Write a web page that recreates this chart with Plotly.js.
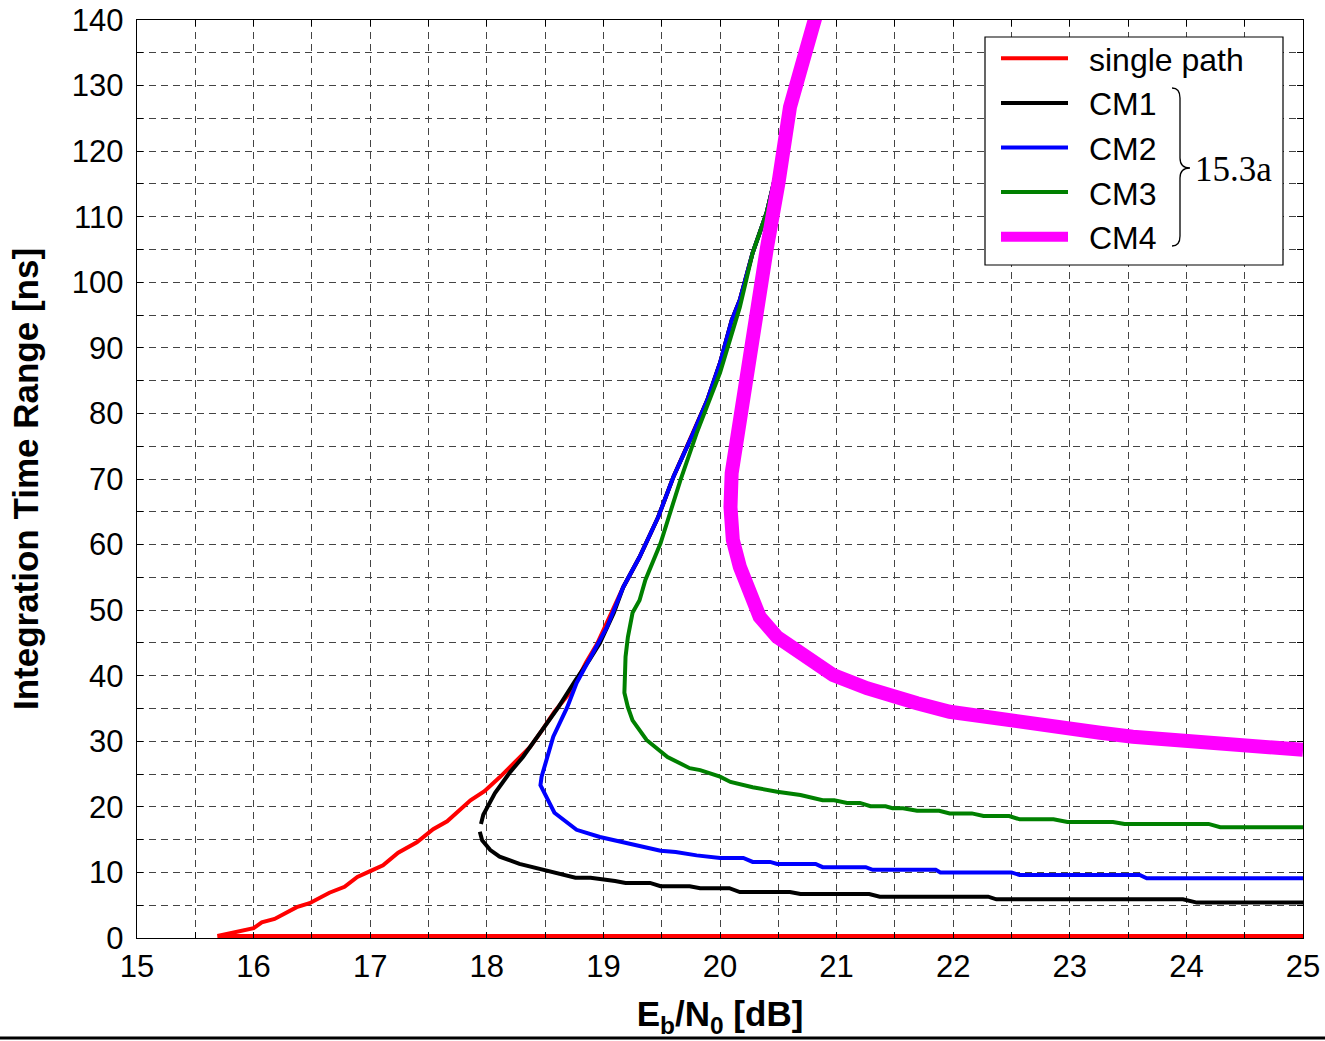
<!DOCTYPE html>
<html>
<head>
<meta charset="utf-8">
<script src="https://cdn.plot.ly/plotly-3.0.1.min.js"></script>
<style>html,body{margin:0;padding:0;background:#fff;}#chart{width:1325px;height:1041px;}</style>
</head>
<body>
<div id="chart"></div>
<script>
// ---------- data ----------
const xTicks = [15, 16, 17, 18, 19, 20, 21, 22, 23, 24, 25];
const xTickText = ['15', '16', '17', '18', '19', '20', '21', '22', '23', '24', '25'];
const yTicks = [0, 10, 20, 30, 40, 50, 60, 70, 80, 90, 100, 110, 120, 130, 140];
const yTickText = ['0', '10', '20', '30', '40', '50', '60', '70', '80', '90', '100', '110', '120', '130', '140'];

const seriesNames = ['single path', 'CM1', 'CM2', 'CM3', 'CM4'];
const braceLabel = '15.3a';

const xSingle = [25, 15.7, 15.69, 16.0, 16.07, 16.18, 16.37, 16.48, 16.65, 16.78, 16.89, 17.0, 17.11, 17.24, 17.4, 17.54, 17.66, 17.86, 17.98, 18.11, 18.24, 18.37, 18.47, 18.58, 18.73, 18.85, 18.95, 19.07, 19.17, 19.31, 19.47, 19.6, 19.77, 19.89, 20.0, 20.1, 20.17, 20.28, 20.4, 20.57, 20.7, 20.82];
const ySingle = [0.3, 0.3, 0.3, 1.5, 2.4, 2.9, 4.7, 5.3, 6.9, 7.8, 9.3, 10.2, 11.1, 13.0, 14.6, 16.6, 17.8, 21.0, 22.4, 24.5, 26.8, 29.1, 31.6, 34.5, 37.8, 42.0, 45.0, 49.6, 53.5, 58.1, 64.2, 70.3, 77.0, 82.0, 87.7, 94.2, 97.3, 104.5, 110.6, 123.2, 132, 140];

const xCM1 = [25, 24.09, 23.97, 22.37, 22.3, 21.37, 21.28, 20.69, 20.6, 20.17, 20.08, 19.83, 19.74, 19.49, 19.4, 19.19, 19.1, 18.89, 18.76, 18.63, 18.46, 18.28, 18.11, 18.03, 17.96, 17.94, null, 17.95, 17.97, 18.07, 18.2, 18.31, 18.49, 18.61, 18.76, 18.88, 18.97, 19.09, 19.17, 19.31, 19.47, 19.6, 19.77, 19.89, 20.0, 20.1, 20.17, 20.28, 20.4, 20.57, 20.7, 20.82];
const yCM1 = [5.4, 5.4, 5.9, 5.9, 6.3, 6.3, 6.7, 6.7, 7.0, 7.0, 7.6, 7.6, 7.9, 7.9, 8.4, 8.4, 8.7, 9.2, 9.2, 9.8, 10.5, 11.3, 12.4, 13.4, 14.9, 16.2, null, 17.4, 18.8, 22.1, 25.3, 27.6, 32.2, 35.1, 39.3, 42.4, 45.0, 49.6, 53.5, 58.1, 64.2, 70.3, 77.0, 82.0, 87.7, 94.2, 97.3, 104.5, 110.6, 123.2, 132, 140];

const xCM2 = [25, 23.66, 23.6, 22.57, 22.5, 21.89, 21.85, 21.31, 21.25, 20.88, 20.82, 20.49, 20.43, 20.28, 20.2, 20.0, 19.8, 19.62, 19.49, 19.2, 18.97, 18.77, 18.58, 18.46, 18.47, 18.57, 18.69, 18.77, 18.89, 19.03, 19.17, 19.31, 19.47, 19.6, 19.77, 19.89, 20.0, 20.1, 20.17, 20.28, 20.4, 20.57, 20.7, 20.82];
const yCM2 = [9.1, 9.1, 9.6, 9.6, 10.0, 10.0, 10.4, 10.4, 10.8, 10.8, 11.3, 11.3, 11.6, 11.6, 12.2, 12.2, 12.6, 13.1, 13.3, 14.5, 15.4, 16.5, 19.1, 23.3, 24.6, 30.7, 35.2, 38.9, 42.9, 47.4, 53.5, 58.1, 64.2, 70.3, 77.0, 82.0, 87.7, 94.2, 97.3, 104.5, 110.6, 123.2, 132, 140];

const xCM3 = [25, 24.29, 24.19, 23.47, 23.37, 22.98, 22.86, 22.57, 22.48, 22.26, 22.16, 21.97, 21.88, 21.69, 21.57, 21.48, 21.42, 21.29, 21.2, 21.09, 20.98, 20.88, 20.69, 20.49, 20.28, 20.09, 20.0, 19.83, 19.74, 19.55, 19.37, 19.25, 19.21, 19.18, 19.19, 19.21, 19.25, 19.31, 19.36, 19.49, 19.66, 19.8, 20.0, 20.17, 20.28, 20.4, 20.57, 20.7, 20.82];
const yCM3 = [16.9, 16.9, 17.4, 17.4, 17.7, 17.7, 18.1, 18.1, 18.6, 18.6, 19.0, 19.0, 19.4, 19.4, 19.8, 19.8, 20.1, 20.1, 20.6, 20.6, 21.0, 21.0, 21.8, 22.3, 23.0, 23.8, 24.6, 25.6, 25.9, 27.6, 30.2, 33.2, 35.2, 37.4, 42.9, 45.9, 49.6, 51.5, 54.6, 60.2, 69.8, 77.0, 86.2, 96.2, 104.5, 110.6, 123.2, 132, 140];

const xCM4 = [25, 24.69, 24.4, 24.12, 23.83, 23.54, 23.26, 22.98, 22.68, 22.4, 22.26, 21.97, 21.69, 21.48, 21.26, 20.97, 20.69, 20.49, 20.34, 20.23, 20.17, 20.11, 20.09, 20.1, 20.15, 20.2, 20.26, 20.32, 20.4, 20.5, 20.6, 20.7, 20.82, 20.86];
const yCM4 = [28.7, 29.1, 29.1, 29.6, 30.1, 30.7, 31.3, 32.0, 32.8, 33.6, 33.9, 34.5, 35.8, 36.8, 38.1, 40.1, 43.2, 45.9, 49.0, 53.5, 56.6, 60.7, 65.7, 70.9, 77.0, 82.5, 89.7, 97.3, 105, 115, 126.7, 133, 140, 143];

const seriesColors = ['#ff0000', '#000000', '#0000ff', '#008000', '#ff00ff'];

// ---------- layout helpers ----------
const W = 1325, H = 1041;
const M = {l: 137, r: 22, t: 20, b: 103};
const pw = W - M.l - M.r, ph = H - M.t - M.b;
const px = v => (v - M.l) / pw;          // pixel -> paper x
const py = v => (H - M.b - v) / ph;      // pixel -> paper y

const FONT = '"Liberation Sans", Arial, sans-serif';
const gridDash = '7px,5px';
const gridColor = '#444444';

const xs = [xSingle, xCM1, xCM2, xCM3, xCM4];
const ys = [ySingle, yCM1, yCM2, yCM3, yCM4];
const widths = [4, 4, 4, 4, 14];

const traces = seriesNames.map((n, i) => ({
  x: xs[i], y: ys[i], name: '\u2002' + n, type: 'scatter', mode: 'lines',
  connectgaps: false,
  line: {color: seriesColors[i], width: widths[i]},
  hoverinfo: 'skip'
}));

// brace path (pixel coordinates converted to paper)
const bX = 1180, bTip = 1190, bTop = 88, bMid = 168, bBot = 246;
const brace = `M${px(bX-8)},${py(bTop)} Q${px(bX)},${py(bTop)} ${px(bX)},${py(bTop+10)} L${px(bX)},${py(bMid-10)} Q${px(bX)},${py(bMid)} ${px(bTip)},${py(bMid)} Q${px(bX)},${py(bMid)} ${px(bX)},${py(bMid+10)} L${px(bX)},${py(bBot-10)} Q${px(bX)},${py(bBot)} ${px(bX-8)},${py(bBot)}`;

const axisCommon = {
  showline: true, linecolor: '#000', linewidth: 1.3, mirror: 'ticks',
  ticks: 'inside', ticklen: 6, tickcolor: '#000', tickwidth: 1,
  showgrid: true, gridcolor: gridColor, gridwidth: 1, griddash: gridDash,
  zeroline: false, tickfont: {family: FONT, size: 31, color: '#000'},
  tickmode: 'array', fixedrange: true
};

const layout = {
  width: W, height: H,
  margin: M,
  paper_bgcolor: '#fff', plot_bgcolor: '#fff',
  showlegend: true,
  xaxis: Object.assign({}, axisCommon, {
    range: [15, 25], tickvals: xTicks, ticktext: xTickText,
    minor: {dtick: 0.5, tick0: 15, ticks: 'inside', ticklen: 6, tickcolor: '#000',
            showgrid: true, gridcolor: gridColor, gridwidth: 1, griddash: gridDash},
    title: {text: '<b>E<sub>b</sub>/N<sub>0</sub> [dB]</b>', font: {family: FONT, size: 35, color: '#000'}, standoff: 19},
    automargin: false
  }),
  yaxis: Object.assign({}, axisCommon, {
    range: [0, 140], tickvals: yTicks, ticktext: yTickText,
    ticklabelstandoff: 6,
    minor: {dtick: 5, tick0: 0, ticks: 'inside', ticklen: 6, tickcolor: '#000',
            showgrid: true, gridcolor: gridColor, gridwidth: 1, griddash: gridDash},
    title: {text: '<b>Integration Time Range [ns]</b>', font: {family: FONT, size: 35, color: '#000'}, standoff: 22},
    automargin: false
  }),
  legend: {
    x: px(996), y: py(31), xanchor: 'left', yanchor: 'top',
    bgcolor: 'rgba(0,0,0,0)', borderwidth: 0,
    font: {family: FONT, size: 32, color: '#000'},
    itemwidth: 67, tracegroupgap: 0,
    itemclick: false, itemdoubleclick: false
  },
  shapes: [
    {type: 'rect', xref: 'paper', yref: 'paper', x0: px(985), x1: px(1283), y0: py(265), y1: py(37),
     fillcolor: '#fff', line: {color: '#000', width: 1.2}, layer: 'above'},
    {type: 'path', xref: 'paper', yref: 'paper', path: brace, line: {color: '#000', width: 1.3}, layer: 'above'},
    {type: 'line', xref: 'paper', yref: 'paper', x0: px(0), x1: px(W), y0: py(1038), y1: py(1038), line: {color: '#000', width: 3}}
  ],
  annotations: [
    {xref: 'paper', yref: 'paper', x: px(1193), y: py(170), xanchor: 'left', yanchor: 'middle',
     text: braceLabel, showarrow: false, font: {family: '"Liberation Serif", "Times New Roman", serif', size: 35, color: '#000'}}
  ]
};

Plotly.newPlot('chart', traces, layout, {staticPlot: true, displayModeBar: false});
</script>
</body>
</html>
